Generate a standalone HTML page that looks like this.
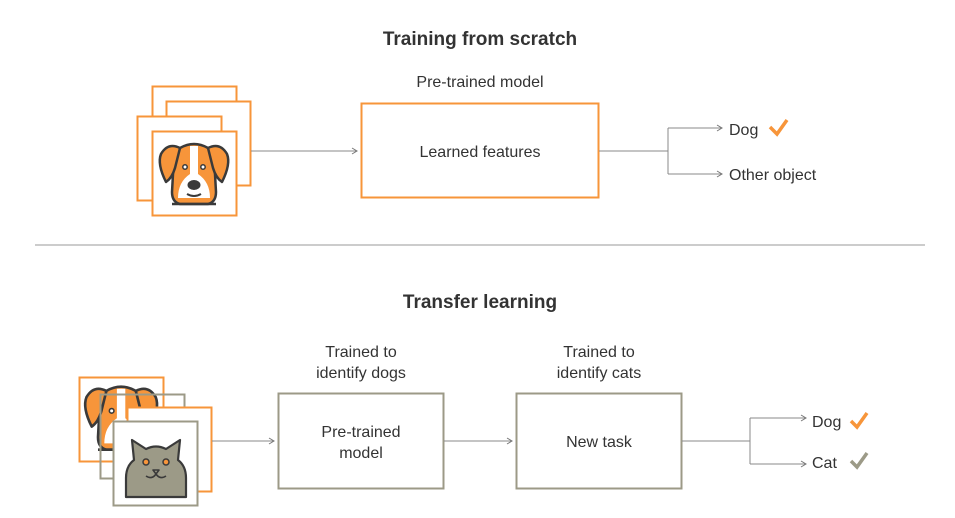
<!DOCTYPE html>
<html><head><meta charset="utf-8"><style>
html,body{margin:0;padding:0;background:#fff;}
svg{display:block;font-family:"Liberation Sans",sans-serif;}
</style></head><body>
<svg width="955" height="518" viewBox="0 0 955 518" xmlns="http://www.w3.org/2000/svg">
<defs>
<marker id="a" markerWidth="8" markerHeight="8" refX="6" refY="4" orient="auto" markerUnits="userSpaceOnUse">
<path d="M1,1 L6,4 L1,7" fill="none" stroke="#777" stroke-width="1"/></marker>
<g id="dog">
<path d="M28,18 Q42,10 56,18 L62,26 L64,62 Q64,72 56,74 L28,74 Q20,72 20,62 L22,26 Z" fill="#f7953a" stroke="#3a3a3a" stroke-width="2.5"/>
<path d="M38,16 L46,16 L46,44 Q58,52 58,68 L26,68 Q26,52 38,44 Z" fill="#fff"/>
<path d="M28,18 Q16,12 9,24 Q5,34 14,52 Q20,48 23,38 Z" fill="#f7953a" stroke="#3a3a3a" stroke-width="2.5" stroke-linejoin="round"/>
<path d="M56,18 Q68,12 75,24 Q79,34 70,52 Q64,48 61,38 Z" fill="#f7953a" stroke="#3a3a3a" stroke-width="2.5" stroke-linejoin="round"/>
<circle cx="33" cy="37" r="2.2" fill="#fff" stroke="#3a3a3a" stroke-width="1.5"/>
<circle cx="51" cy="37" r="2.2" fill="#fff" stroke="#3a3a3a" stroke-width="1.5"/>
<ellipse cx="42" cy="55" rx="6.5" ry="5" fill="#3a3a3a"/>
<path d="M35,64 Q42,68 49,64" fill="none" stroke="#3a3a3a" stroke-width="2"/>
<path d="M20,74 L64,74" stroke="#3a3a3a" stroke-width="2.5"/>
</g>
</defs>
<text x="480" y="45" text-anchor="middle" font-size="19" font-weight="bold" fill="#333">Training from scratch</text>
<rect x="152.5" y="86.5" width="84" height="84" fill="#fff" stroke="#f7953a" stroke-width="2"/>
<rect x="166.5" y="101.5" width="84" height="84" fill="#fff" stroke="#f7953a" stroke-width="2"/>
<rect x="137.5" y="116.5" width="84" height="84" fill="#fff" stroke="#f7953a" stroke-width="2"/>
<rect x="152.5" y="131.5" width="84" height="84" fill="#fff" stroke="#f7953a" stroke-width="2"/>
<use href="#dog" transform="translate(152,130)"/>
<line x1="251" y1="151" x2="357" y2="151" stroke="#888" stroke-width="1" marker-end="url(#a)"/>
<text x="480" y="87" text-anchor="middle" font-size="16" fill="#333">Pre-trained model</text>
<rect x="361.5" y="103.5" width="237" height="94" fill="#fff" stroke="#f7953a" stroke-width="2"/>
<text x="480" y="157" text-anchor="middle" font-size="16" fill="#333">Learned features</text>
<path d="M599,151 H668 M668,128 V174" stroke="#888" stroke-width="1" fill="none"/>
<line x1="668" y1="128" x2="722" y2="128" stroke="#888" stroke-width="1" marker-end="url(#a)"/>
<line x1="668" y1="174" x2="722" y2="174" stroke="#888" stroke-width="1" marker-end="url(#a)"/>
<text x="729" y="135" font-size="16" fill="#333">Dog</text>
<path d="M770,127 L777,134 L787,120" fill="none" stroke="#f7953a" stroke-width="3.5"/>
<text x="729" y="180" font-size="16" fill="#333">Other object</text>
<line x1="35" y1="245" x2="925" y2="245" stroke="#999" stroke-width="1"/>
<text x="480" y="308" text-anchor="middle" font-size="19" font-weight="bold" fill="#333">Transfer learning</text>
<rect x="79.5" y="377.5" width="84" height="84" fill="#fff" stroke="#f7953a" stroke-width="2"/>
<use href="#dog" transform="translate(77,372) scale(1.05)"/>
<rect x="100.5" y="394.5" width="84" height="84" fill="#fff" stroke="#9c9a87" stroke-width="2" fill-opacity="0"/>
<rect x="127.5" y="407.5" width="84" height="84" fill="#fff" stroke="#f7953a" stroke-width="2"/>
<rect x="113.5" y="421.5" width="84" height="84" fill="#fff" stroke="#9c9a87" stroke-width="2"/>
<g stroke="#3a3a3a" stroke-width="2.2" stroke-linejoin="round">
<path d="M126,497 L126,478 Q126,466 134,460 L132,440 L146,449 Q156,444 166,449 L180,440 L178,460 Q186,466 186,478 L186,497 Z" fill="#9c9a87"/>
<circle cx="146" cy="462" r="3" fill="#f7953a" stroke-width="1.5"/>
<circle cx="166" cy="462" r="3" fill="#f7953a" stroke-width="1.5"/>
<path d="M153,470 L159,470 L156,474 Z M156,474 Q152,480 146,476 M156,474 Q160,480 166,476" fill="none" stroke-width="1.6"/>
</g>
<line x1="212" y1="441" x2="274" y2="441" stroke="#888" stroke-width="1" marker-end="url(#a)"/>
<text x="361" y="357" text-anchor="middle" font-size="16" fill="#333">Trained to</text>
<text x="361" y="378" text-anchor="middle" font-size="16" fill="#333">identify dogs</text>
<rect x="278.5" y="393.5" width="165" height="95" fill="#fff" stroke="#9c9a87" stroke-width="2"/>
<text x="361" y="437" text-anchor="middle" font-size="16" fill="#333">Pre-trained</text>
<text x="361" y="458" text-anchor="middle" font-size="16" fill="#333">model</text>
<line x1="444" y1="441" x2="512" y2="441" stroke="#888" stroke-width="1" marker-end="url(#a)"/>
<text x="599" y="357" text-anchor="middle" font-size="16" fill="#333">Trained to</text>
<text x="599" y="378" text-anchor="middle" font-size="16" fill="#333">identify cats</text>
<rect x="516.5" y="393.5" width="165" height="95" fill="#fff" stroke="#9c9a87" stroke-width="2"/>
<text x="599" y="447" text-anchor="middle" font-size="16" fill="#333">New task</text>
<path d="M682,441 H750 M750,418 V464" stroke="#888" stroke-width="1" fill="none"/>
<line x1="750" y1="418" x2="806" y2="418" stroke="#888" stroke-width="1" marker-end="url(#a)"/>
<line x1="750" y1="464" x2="806" y2="464" stroke="#888" stroke-width="1" marker-end="url(#a)"/>
<text x="812" y="427" font-size="16" fill="#333">Dog</text>
<path d="M851,421 L857,427 L867,413" fill="none" stroke="#f7953a" stroke-width="3.5"/>
<text x="812" y="468" font-size="16" fill="#333">Cat</text>
<path d="M851,461 L857,467 L867,453" fill="none" stroke="#9c9a87" stroke-width="3.5"/>
</svg>
</body></html>
